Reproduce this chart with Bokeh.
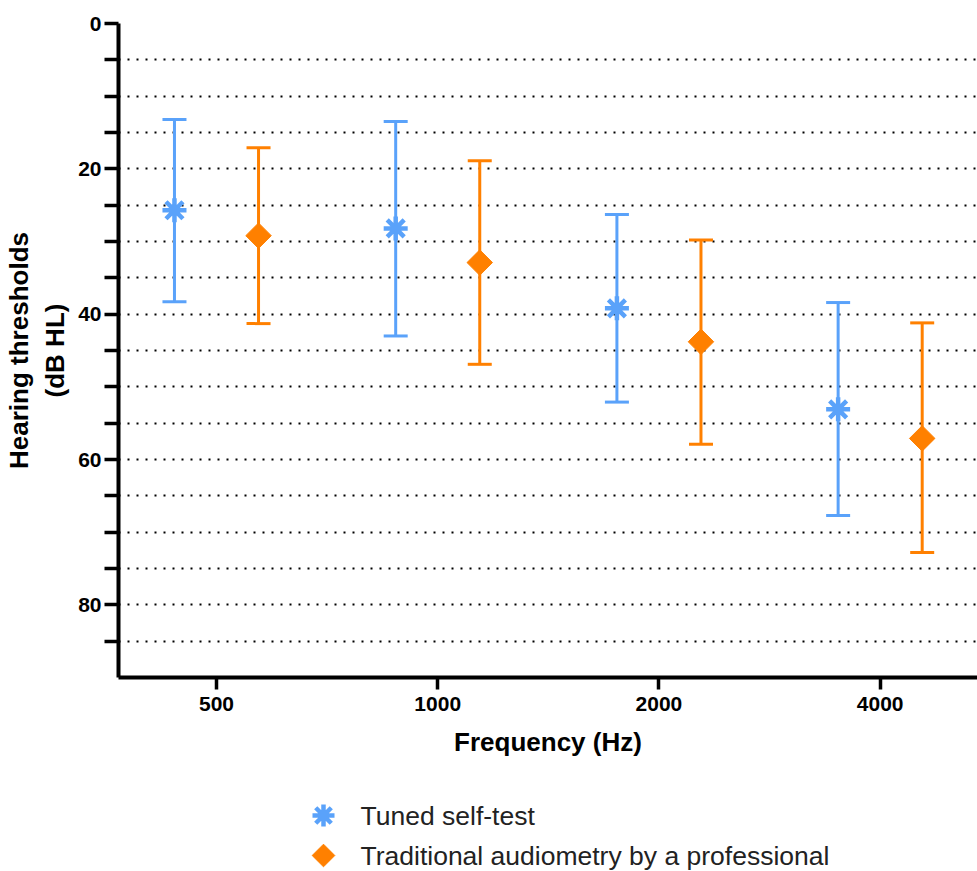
import numpy as np
from bokeh.plotting import figure
from bokeh.layouts import column
from bokeh.models import ColumnDataSource, Range1d, FixedTicker, Whisker, TeeHead
from bokeh.transform import dodge
from bokeh.core.properties import value
from bokeh.embed import file_html
from bokeh.resources import INLINE

# ---- data ----
frequencies = ["500", "1000", "2000", "4000"]
freq_index = [0, 1, 2, 3]

self_test_mean = [25.7, 28.2, 39.2, 53.1]
self_test_low = [13.2, 13.5, 26.3, 38.4]
self_test_high = [38.3, 43.0, 52.1, 67.7]

prof_mean = [29.2, 32.9, 43.8, 57.1]
prof_low = [17.1, 18.9, 29.8, 41.2]
prof_high = [41.3, 46.9, 57.9, 72.8]

y_major_ticks = [0, 20, 40, 60, 80]
y_minor_ticks = [5, 10, 15, 25, 30, 35, 45, 50, 55, 65, 70, 75, 85]

series_names = ["Tuned self-test", "Traditional audiometry by a professional"]
legend_rows = [0, 1]

BLUE = "#5AA2FA"
ORANGE = "#FF8000"
FONT = "Liberation Sans"

src_self = ColumnDataSource(dict(idx=freq_index, mean=self_test_mean,
                                 low=self_test_low, high=self_test_high))
src_prof = ColumnDataSource(dict(idx=freq_index, mean=prof_mean,
                                 low=prof_low, high=prof_high))

LEFT = 118

p = figure(width=977, height=776, output_backend="svg", toolbar_location=None,
           x_range=Range1d(-0.443, 3.44), y_range=Range1d(90, 0),
           min_border_left=LEFT, min_border_right=0, min_border_top=23,
           min_border_bottom=99)
p.outline_line_color = None

# grids
p.xgrid.grid_line_color = None
p.ygrid.ticker = FixedTicker(ticks=y_major_ticks, minor_ticks=y_minor_ticks)
for attr in ["grid", "minor_grid"]:
    setattr(p.ygrid, f"{attr}_line_color", "black")
    setattr(p.ygrid, f"{attr}_line_dash", "2 7")
    setattr(p.ygrid, f"{attr}_line_width", 2)

# y axis
ya = p.yaxis[0]
ya.ticker = FixedTicker(ticks=y_major_ticks, minor_ticks=y_minor_ticks)
ya.axis_label = "Hearing thresholds\n(dB HL)"
ya.axis_line_width = 4
ya.axis_line_color = "black"
ya.major_tick_in = 0
ya.major_tick_out = 14
ya.minor_tick_in = 0
ya.minor_tick_out = 14
ya.major_tick_line_width = 3.5
ya.minor_tick_line_width = 3.5
ya.major_label_text_font = FONT
ya.major_label_text_font_style = "bold"
ya.major_label_text_font_size = "21px"
ya.major_label_text_color = "black"
ya.major_label_standoff = 3
ya.axis_label_text_font = FONT
ya.axis_label_text_font_style = "bold"
ya.axis_label_text_font_size = "26px"
ya.axis_label_text_color = "black"
ya.axis_label_standoff = 5

# x axis
xa = p.xaxis[0]
xa.ticker = FixedTicker(ticks=freq_index)
xa.major_label_overrides = {i: f for i, f in zip(freq_index, frequencies)}
xa.minor_tick_line_color = None
xa.axis_label = "Frequency (Hz)"
xa.axis_line_width = 4
xa.axis_line_color = "black"
xa.major_tick_in = 0
xa.major_tick_out = 12
xa.major_tick_line_width = 3.5
xa.major_label_text_font = FONT
xa.major_label_text_font_style = "bold"
xa.major_label_text_font_size = "21px"
xa.major_label_text_color = "black"
xa.major_label_standoff = 7
xa.axis_label_text_font = FONT
xa.axis_label_text_font_style = "bold"
xa.axis_label_text_font_size = "26px"
xa.axis_label_text_color = "black"
xa.axis_label_standoff = 13

OFF = 0.19

# error bars
for src, col, shift in [(src_self, BLUE, -OFF), (src_prof, ORANGE, OFF)]:
    w = Whisker(base=dodge("idx", shift), lower="low", upper="high", source=src,
                dimension="height", line_color=col, line_width=3,
                upper_head=TeeHead(size=24, line_color=col, line_width=3),
                lower_head=TeeHead(size=24, line_color=col, line_width=3))
    p.add_layout(w)

p.scatter(x=dodge("idx", -OFF), y="mean", source=src_self, marker="asterisk",
          size=24, line_color=BLUE, line_width=4.5)
p.scatter(x=dodge("idx", OFF), y="mean", source=src_prof, marker="square",
          angle=np.pi / 4, size=18, fill_color=ORANGE, line_color=ORANGE, line_width=1)

# ---- legend (separate strip below the chart) ----
LEG_H = 95
ROW_PX = 40
MARK_X = 323
leg = figure(width=977, height=LEG_H, output_backend="svg", toolbar_location=None,
             x_range=Range1d(-(MARK_X - LEFT), 977 - MARK_X),
             y_range=Range1d((LEG_H - 39) / ROW_PX, -39 / ROW_PX),
             x_axis_location=None, y_axis_location=None,
             min_border_left=LEFT, min_border_right=0, min_border_top=0,
             min_border_bottom=0)
leg.outline_line_color = None
leg.grid.grid_line_color = None

leg.scatter(x=[0], y=[legend_rows[0]], marker="asterisk", size=22,
            line_color=BLUE, line_width=4.5)
leg.scatter(x=[0], y=[legend_rows[1]], marker="square", angle=np.pi / 4, size=16,
            fill_color=ORANGE, line_color=ORANGE, line_width=1)
leg.text(x=[37, 37], y=legend_rows, text=series_names, text_font=value(FONT),
         text_font_size="26.5px", text_color="#222222", text_align="left",
         text_baseline="middle")

layout = column(p, leg, spacing=0)
open("out.html", "w").write(file_html(layout, INLINE))
